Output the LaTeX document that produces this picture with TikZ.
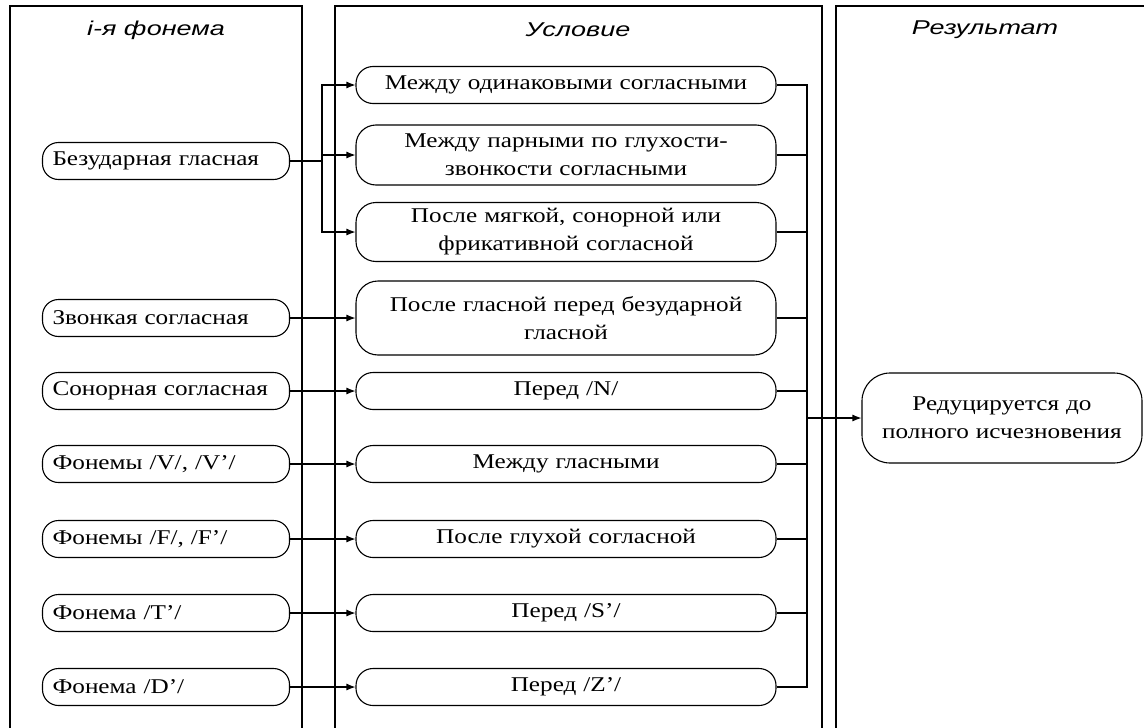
\documentclass[tikz,border=0pt]{standalone}
\usepackage{fontspec}
\setmainfont{Liberation Serif}[FakeStretch=1.2]
\newfontfamily\headfont{Liberation Sans}[FakeStretch=1.35]
\usetikzlibrary{arrows.meta}

\tikzset{
	lane/.style={line width=1.3pt},
	head/.style={font=\headfont\itshape\fontsize{20}{24}\selectfont},
	phon/.style={draw,line width=1.1pt,rounded corners=16pt,minimum height=37pt,
		text width=227pt,align=left,inner xsep=10pt,inner ysep=0pt,
		font=\fontsize{21}{28}\selectfont},
	cond/.style={draw,line width=1.1pt,rounded corners=17pt,minimum height=37pt,
		text width=400pt,align=center,inner xsep=10pt,inner ysep=0pt,
		font=\fontsize{21}{28}\selectfont},
	conn/.style={line width=1.1pt},
}

\begin{document}
\begin{tikzpicture}[>={Latex[length=9pt,width=7pt]},x=1pt,y=-1pt]
		\useasboundingbox (0,0) rectangle (1144,728);
		% swimlanes
		\draw[lane] (10,728) -- (10,6) -- (302,6) -- (302,728);
		\draw[lane] (335,728) -- (335,6) -- (822,6) -- (822,728);
		\draw[lane] (836,728) -- (836,6) -- (1144,6);
		\node[head] (h1) at (156,30) {i-я фонема};
		\node[head] (h2) at (578,30) {Условие};
		\node[head] (h3) at (985,30) {Результат};
		
		% i-th phoneme
		\node[phon] (bez) at (166,161) {Безударная гласная};
		\node[phon] (zv) at (166,318) {Звонкая согласная};
		\node[phon] (son) at (166,391) {Сонорная согласная};
		\node[phon] (fv) at (166,464) {Фонемы /V/, /V’/};
		\node[phon] (ff) at (166,539) {Фонемы /F/, /F’/};
		\node[phon] (ft) at (166,613) {Фонема /T’/};
		\node[phon] (fd) at (166,687) {Фонема /D’/};
		
		% conditions
		\node[cond] (c1) at (566,85) {Между одинаковыми согласными};
		\node[cond,minimum height=60pt,rounded corners=20pt] (c2) at (566,155) {Между парными по глухости-\\звонкости согласными};
		\node[cond,minimum height=59pt,rounded corners=20pt] (c3) at (566,232) {После мягкой, сонорной или\\фрикативной согласной};
		\node[cond,minimum height=74pt,rounded corners=22pt] (c4) at (566,318) {После гласной перед безударной\\гласной};
		\node[cond] (c5) at (566,391) {Перед /N/};
		\node[cond] (c6) at (566,464) {Между гласными};
		\node[cond] (c7) at (566,539) {После глухой согласной};
		\node[cond] (c8) at (566,613) {Перед /S’/};
		\node[cond] (c9) at (566,687) {Перед /Z’/};
		
		% result
		\node[cond,text width=260pt,minimum height=90pt,rounded corners=28pt] (res) at (1002,418) {Редуцируется до\\полного исчезновения};
		
		% connectors
		\coordinate (split) at (322,161);
		\coordinate (bus) at (807,418);
		\draw[conn] (bez) -- (split);
		\draw[conn,->] (split) |- (c1);
		\draw[conn,->] (split) |- (c2);
		\draw[conn,->] (split) |- (c3);
		\draw[conn,->] (zv) -- (c4);
		\draw[conn,->] (son) -- (c5);
		\draw[conn,->] (fv) -- (c6);
		\draw[conn,->] (ff) -- (c7);
		\draw[conn,->] (ft) -- (c8);
		\draw[conn,->] (fd) -- (c9);
		\foreach \c in {c1,c2,c3,c4,c5,c6,c7,c8,c9}
			\draw[conn] (\c) -| (bus);
		\draw[conn,->] (bus) -- (res);
		
\end{tikzpicture}
\end{document}
